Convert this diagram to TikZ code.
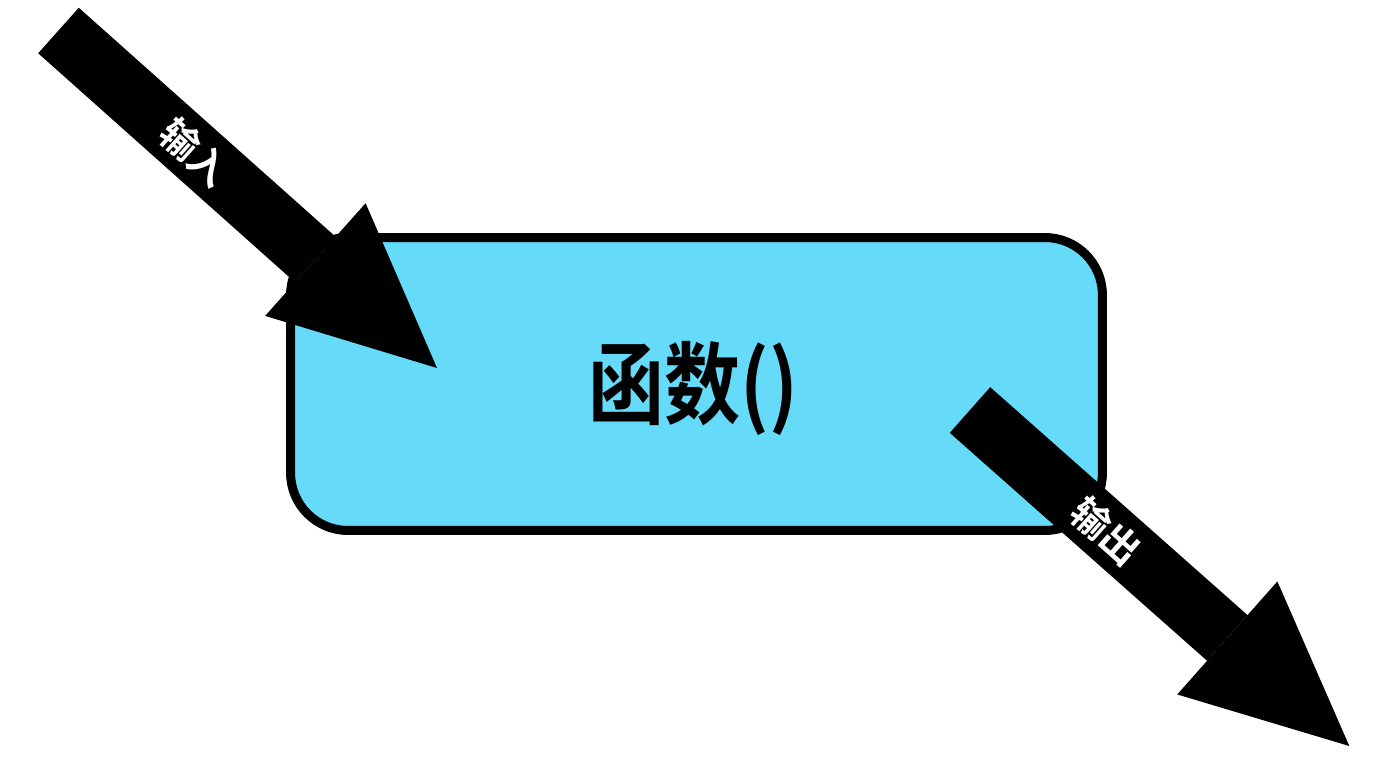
\documentclass[tikz,border=0pt]{standalone}
\usepackage{fontspec}
\setmainfont{Noto Sans CJK SC}[BoldFont={Noto Sans CJK SC Bold}]
\usetikzlibrary{arrows.meta}
\definecolor{bleuciel}{RGB}{102,218,249}
\begin{document}
\begin{tikzpicture}[x=0.02cm, y=-0.02cm,
    fleche/.style={line width=1.22cm, -{Triangle[width=3.02cm, length=3.26cm, line width=0pt]}},
    etiquette/.style={text=white, font=\fontsize{22}{22}\selectfont\bfseries, sloped, inner sep=0pt}]
  \useasboundingbox (0,0) rectangle (1376,768);
  \node[draw, line width=0.18cm, fill=bleuciel, rounded corners=1.15cm,
        minimum width=16.24cm, minimum height=5.86cm] (fonction) at (696.5,384) {};
  \node (titre) at (693,388) {\scalebox{0.85}[1]{\fontsize{51}{51}\selectfont\bfseries 函数()}};
  \coordinate (entree-debut) at (58.5,30.5);
  \coordinate (entree-fin) at (437,368);
  \coordinate (sortie-debut) at (970,410);
  \coordinate (sortie-fin) at (1349.3,746);
  \draw [fleche] (entree-debut) -- node[etiquette, pos=0.36] (entree) {输入} (entree-fin);
  \draw [fleche] (sortie-debut) -- node[etiquette, pos=0.36] (sortie) {输出} (sortie-fin); % sur la boite
\end{tikzpicture}
\end{document}
